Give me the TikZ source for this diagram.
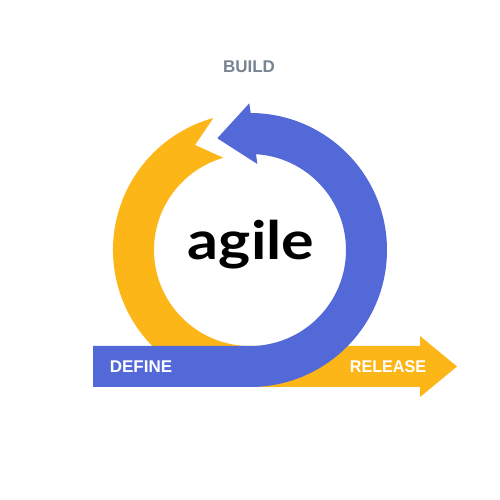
\documentclass[tikz,border=0pt]{standalone}
\usepackage{fontspec}
\setmainfont{Liberation Sans}
\newfontfamily\agfont{Lato}
\definecolor{agblue}{RGB}{83,105,216}
\definecolor{agyellow}{RGB}{253,182,24}
\definecolor{buildgray}{RGB}{120,132,146}
\begin{document}
\begin{tikzpicture}[x=1pt,y=1pt,
  lbl/.style={font=\bfseries\fontsize{17}{17}\selectfont, inner sep=0pt}]
\useasboundingbox[fill=white] (0,0) rectangle (500,500);
\begin{scope}[shift={(250,250)}]
  % yellow ring + arrow to the right
  \fill[agyellow] (105.5:137) arc[start angle=105.5, end angle=270, radius=137]
    -- (170,-137) -- (170,-147) -- (207,-116.5) -- (170,-86) -- (170,-96)
    -- (0,-96) arc[start angle=270, end angle=106.1, radius=96]
    -- (-55,105) -- cycle;
  % blue ring + arrow at top + bar to the left
  \fill[agblue] (7.3,86) -- (-32.7,111.7) -- (-0.7,146.7) -- (89.7:137)
    arc[start angle=89.7, end angle=-90, radius=137]
    -- (-157,-137) -- (-157,-96) -- (0,-96)
    arc[start angle=-90, end angle=86.4, radius=96] -- cycle;
\end{scope}
\node[lbl, text=buildgray] (build) at (249,433) {BUILD};
\node[lbl, text=white] (define) at (141,133) {DEFINE};
\node[lbl, text=white, xscale=0.95] (release) at (388,133) {RELEASE};
\node[anchor=base, inner sep=0pt, xscale=1.15, font=\agfont\bfseries\fontsize{53}{53}\selectfont] (agile) at (251,240) {agile};
\end{tikzpicture}
\end{document}
